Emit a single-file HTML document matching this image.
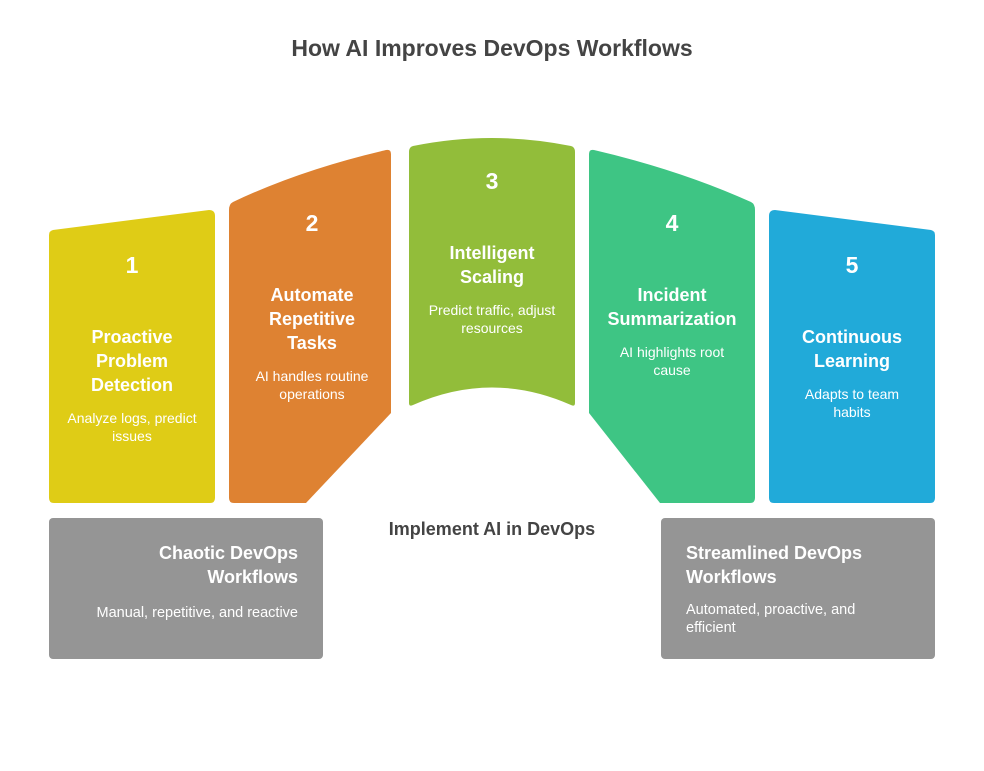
<!DOCTYPE html>
<html><head><style>
body{margin:0;background:#fff;width:984px;height:766px;overflow:hidden;font-family:"Liberation Sans",sans-serif}
svg text{font-family:"Liberation Sans",sans-serif}
</style></head><body>
<svg width="984" height="766" viewBox="0 0 984 766">
<text x="492" y="56" text-anchor="middle" font-size="23" font-weight="bold" fill="#444">How AI Improves DevOps Workflows</text>
<path d="M53,230 L209,210 Q215,210 215,216 L215,498 Q215,503 210,503 L54,503 Q49,503 49,498 L49,235 Q49,231 53,230 Z" fill="#dfcc16"/>
<path d="M233,202 Q300,170 386,150 Q391,149 391,154 L391,413 L306,503 L234,503 Q229,503 229,498 L229,210 Q229,204 233,202 Z" fill="#de8232"/>
<path d="M413,146 Q492,130 571,146 Q575,147 575,152 L575,403 Q575,407 571,405 Q492,370 413,405 Q409,407 409,403 L409,152 Q409,147 413,146 Z" fill="#92bd3a"/>
<path d="M594,150 Q680,170 751,202 Q755,204 755,210 L755,498 Q755,503 750,503 L660,503 L589,413 L589,154 Q589,149 594,150 Z" fill="#3ec584"/>
<path d="M775,210 L931,230 Q935,231 935,235 L935,498 Q935,503 930,503 L774,503 Q769,503 769,498 L769,216 Q769,210 775,210 Z" fill="#21aad9"/>
<g fill="#fff" text-anchor="middle" font-weight="bold">
<text x="132" y="273" font-size="23">1</text>
<text x="312" y="231" font-size="23">2</text>
<text x="492" y="189" font-size="23">3</text>
<text x="672" y="231" font-size="23">4</text>
<text x="852" y="273" font-size="23">5</text>
<g font-size="18">
<text x="132" y="343">Proactive</text><text x="132" y="367">Problem</text><text x="132" y="391">Detection</text>
<text x="312" y="301">Automate</text><text x="312" y="325">Repetitive</text><text x="312" y="349">Tasks</text>
<text x="492" y="259">Intelligent</text><text x="492" y="283">Scaling</text>
<text x="672" y="301">Incident</text><text x="672" y="325">Summarization</text>
<text x="852" y="343">Continuous</text><text x="852" y="367">Learning</text>
</g>
</g>
<g fill="#fff" text-anchor="middle" font-size="14">
<text x="132" y="423">Analyze logs, predict</text><text x="132" y="441">issues</text>
<text x="312" y="381">AI handles routine</text><text x="312" y="399">operations</text>
<text x="492" y="315">Predict traffic, adjust</text><text x="492" y="333">resources</text>
<text x="672" y="357">AI highlights root</text><text x="672" y="375">cause</text>
<text x="852" y="399">Adapts to team</text><text x="852" y="417">habits</text>
</g>
<rect x="49" y="518" width="274" height="141" rx="4" fill="#959595"/>
<rect x="661" y="518" width="274" height="141" rx="4" fill="#959595"/>
<g fill="#fff">
<text x="298" y="559" text-anchor="end" font-size="18" font-weight="bold">Chaotic DevOps</text>
<text x="298" y="583" text-anchor="end" font-size="18" font-weight="bold">Workflows</text>
<text x="298" y="617" text-anchor="end" font-size="14.5">Manual, repetitive, and reactive</text>
<text x="686" y="559" font-size="18" font-weight="bold">Streamlined DevOps</text>
<text x="686" y="583" font-size="18" font-weight="bold">Workflows</text>
<text x="686" y="614" font-size="14.5">Automated, proactive, and</text>
<text x="686" y="632" font-size="14.5">efficient</text>
</g>
<text x="492" y="535" text-anchor="middle" font-size="18" font-weight="bold" fill="#444">Implement AI in DevOps</text>
</svg>
</body></html>
